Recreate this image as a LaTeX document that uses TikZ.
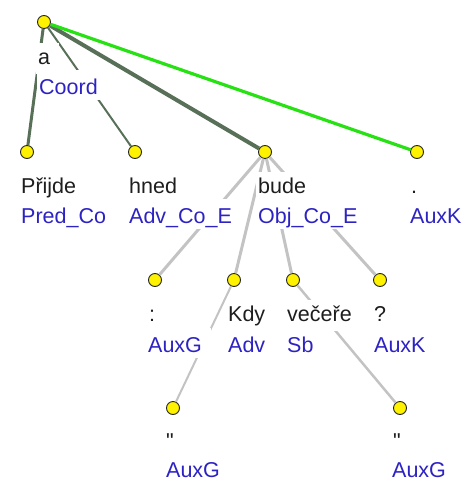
\documentclass[tikz,border=0pt]{standalone}
\usepackage{fontspec}
\setmainfont{Liberation Sans}[Ligatures=TeXOff]
\definecolor{wordcol}{RGB}{30,30,30}
\definecolor{tagcol}{RGB}{45,35,195}
\definecolor{darkedge}{RGB}{88,112,88}
\definecolor{greenedge}{RGB}{40,225,20}
\definecolor{greyedge}{RGB}{195,195,195}
\begin{document}
\begin{tikzpicture}[x=1pt, y=1pt,
    dot/.style={circle, draw=black!85, fill=yellow, line width=0.9pt, inner sep=0pt, minimum size=13pt},
    word/.style={anchor=base west, inner sep=0pt, fill=white, text=wordcol,
      text height=21.5pt, text depth=10pt,
      execute at begin node=\hspace*{2pt}, execute at end node=\hspace*{9pt},
      font=\fontsize{21.5}{24}\selectfont},
    tag/.style={word, text=tagcol, text height=24pt, text depth=6pt},
    dark/.style={draw=darkedge},
    light/.style={draw=greyedge}]
    \useasboundingbox (0,0) rectangle (464,-482);
    % nodes of the tree
    \node (a) at (44, -22) [dot] {};
    \node (prijde) at (27, -152) [dot] {};
    \node (hned) at (135, -152) [dot] {};
    \node (bude) at (265, -152) [dot] {};
    \node (tecka) at (417, -152) [dot] {};
    \node (dvoj) at (155, -280) [dot] {};
    \node (kdy) at (234, -280) [dot] {};
    \node (vecere) at (293, -280) [dot] {};
    \node (otaz) at (380, -280) [dot] {};
    \node (uvozA) at (173, -408) [dot] {};
    \node (uvozB) at (400, -408) [dot] {};
    % edges
    \draw [dark, line width=3pt] (a) to (prijde);
    \draw [dark, line width=2pt] (a) to (hned);
    \draw [dark, line width=4pt] (a) to (bude);
    \draw [draw=greenedge, line width=3.2pt] (a) to (tecka);
    \draw [light, line width=3pt] (bude) to (dvoj);
    \draw [light, line width=3pt] (bude) to (kdy);
    \draw [light, line width=3pt] (bude) to (vecere);
    \draw [light, line width=3pt] (bude) to (otaz);
    \draw [light, line width=2pt] (kdy) to (uvozA);
    \draw [light, line width=2.5pt] (vecere) to (uvozB);
    % labels (white boxes hide the edges)
    \node (aT) at (37, -94) [tag] {Coord};
    \node (aW) at (36, -64) [word] {a};
    \node (prijdeT) at (19, -223) [tag] {Pred\_Co};
    \node (prijdeW) at (19, -193) [word] {Přijde};
    \node (hnedT) at (127, -223) [tag] {Adv\_Co\_E};
    \node (hnedW) at (127, -193) [word] {hned};
    \node (budeT) at (256, -223) [tag] {Obj\_Co\_E};
    \node (budeW) at (256, -193) [word] {bude};
    \node (teckaT) at (408, -223) [tag] {AuxK};
    \node (teckaW) at (409, -193) [word] {.};
    \node (dvojT) at (146, -352) [tag] {AuxG};
    \node (dvojW) at (147, -321) [word] {:};
    \node (kdyT) at (226, -352) [tag] {Adv};
    \node (kdyW) at (226, -321) [word] {Kdy};
    \node (vecereT) at (285, -352) [tag] {Sb};
    \node (vecereW) at (285, -321) [word] {večeře};
    \node (otazT) at (372, -352) [tag] {AuxK};
    \node (otazW) at (372, -321) [word] {?};
    \node (uvozAT) at (164, -477) [tag] {AuxG};
    \node (uvozAW) at (164, -448) [word] {"};
    \node (uvozBT) at (390, -477) [tag] {AuxG};
    \node (uvozBW) at (391, -448) [word] {"};
  \end{tikzpicture}
\end{document}
